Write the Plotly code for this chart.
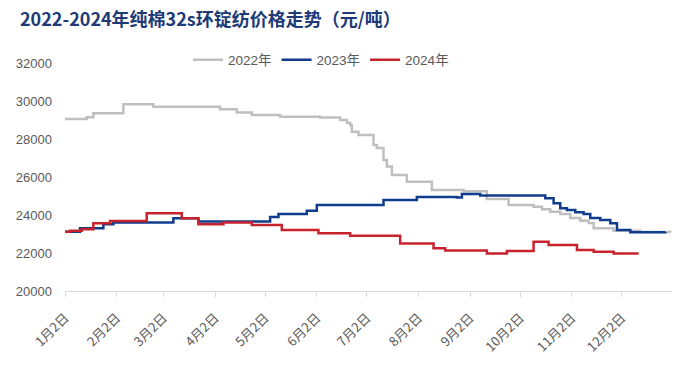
import plotly.graph_objects as go

# ---- data (month-day, price 元/吨) ----
dates_2022 = ["01-02","01-15","01-19","02-06","02-24","04-05","04-15","04-24","05-11","06-04",
              "06-16","06-20","06-22","06-23","06-27","07-06","07-08","07-12","07-14","07-17",
              "07-26","08-10","08-29","09-12","09-25","10-10","10-15","10-20","10-26","11-01",
              "11-07","11-12","11-15","11-27","12-13","12-31"]
vals_2022 = [29050,29150,29350,29830,29700,29560,29390,29260,29170,29130,
             29000,28850,28740,28380,28210,27680,27530,26900,26550,26100,
             25750,25320,25250,24840,24530,24440,24300,24170,24050,23840,
             23700,23580,23300,23170,23100,23090]

dates_2023 = ["01-02","01-11","01-25","01-31","03-08","03-23","05-05","05-10","05-27","06-02",
              "07-12","08-01","08-25","08-28","09-08","10-17","10-22","10-26","10-30","11-04",
              "11-09","11-13","11-19","11-25","11-29","12-07","12-28"]
vals_2023 = [23120,23300,23510,23600,23830,23660,23900,24050,24220,24530,
             24790,24950,24920,25100,25020,24880,24620,24350,24260,24150,
             24050,23840,23740,23560,23210,23090,23100]

dates_2024 = ["01-02","01-05","01-12","01-19","01-29","02-20","03-13","03-23","04-07","04-24",
              "05-12","06-03","06-22","07-22","08-11","08-18","09-12","09-24","10-10","10-19",
              "11-05","11-15","11-27","12-12"]
vals_2024 = [23120,23170,23250,23560,23680,24090,23830,23510,23610,23470,
             23210,23040,22910,22500,22250,22130,21980,22100,22590,22420,
             22160,22070,21980,21980]

tick_dates = ["01-02","02-02","03-02","04-02","05-02","06-02","07-02","08-02","09-02","10-02","11-02","12-02"]
tick_labels = ["1月2日","2月2日","3月2日","4月2日","5月2日","6月2日","7月2日","8月2日","9月2日","10月2日","11月2日","12月2日"]
y_ticks = [20000,22000,24000,26000,28000,30000,32000]
y_labels = ["20000","22000","24000","26000","28000","30000","32000"]

BASE = "2023-"
def full(ds):
    return [BASE + d for d in ds]

series = [
    ("2022年", dates_2022, vals_2022, "#BFBFBF"),
    ("2023年", dates_2023, vals_2023, "#0F3C8C"),
    ("2024年", dates_2024, vals_2024, "#C8232C"),
]

fig = go.Figure()
for name, ds, vs, col in series:
    fig.add_trace(go.Scatter(x=full(ds), y=vs, name=name, mode="lines",
                             line=dict(color=col, width=2.5, shape="hv")))

fig.update_layout(
    width=689, height=369,
    margin=dict(l=65, r=17, t=63, b=78),
    paper_bgcolor="white", plot_bgcolor="white",
    font=dict(family="Liberation Sans, Noto Sans CJK SC", size=13, color="#595959"),
    title=dict(text="<b>2022-2024年纯棉32s环锭纺价格走势（元/吨）</b>",
               x=20/689, xanchor="left", y=1-20/369, yanchor="middle",
               font=dict(family="Noto Sans CJK SC", size=18, color="#203A78")),
    showlegend=True,
    legend=dict(orientation="h", x=(188-65)/607, xanchor="left",
                y=1+3/228, yanchor="middle",
                font=dict(size=13.5, color="#595959", family="Liberation Sans, Noto Sans CJK SC"),
                bgcolor="rgba(0,0,0,0)"),
)
fig.update_xaxes(type="date", range=[BASE + "01-02", "2024-01-01"],
                 tickvals=full(tick_dates), ticktext=tick_labels, tickangle=-45,
                 showgrid=False, showline=True, linecolor="#D9D9D9", linewidth=1,
                 ticks="outside", ticklen=5, tickcolor="#D9D9D9", ticklabelstandoff=8,
                 tickfont=dict(family="Noto Sans CJK SC", size=13, color="#595959"),
                 zeroline=False)
fig.update_yaxes(range=[20000, 32000], tickvals=y_ticks, ticktext=y_labels,
                 showgrid=False, showline=False,
                 zeroline=False, ticks="", ticklabelstandoff=12,
                 tickfont=dict(family="Liberation Sans", size=13, color="#595959"))

fig.write_html("out.html")
